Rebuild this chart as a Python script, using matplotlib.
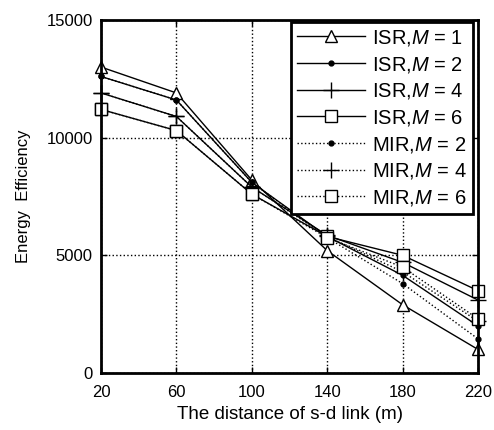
import matplotlib
matplotlib.use("Agg")
import matplotlib.pyplot as plt

plt.rcParams['font.family'] = ['Liberation Sans', 'DejaVu Sans']
plt.rcParams['mathtext.fontset'] = 'custom'
plt.rcParams['mathtext.it'] = 'Liberation Sans:italic'
plt.rcParams['mathtext.rm'] = 'Liberation Sans'

distance = [20, 60, 100, 140, 180, 220]
isr_m1 = [13000, 11900, 8200, 5200, 2900, 1000]
isr_m2 = [12600, 11600, 8100, 5800, 4150, 2000]
isr_m4 = [11900, 10900, 7900, 5850, 4700, 3100]
isr_m6 = [11200, 10300, 7600, 5800, 5000, 3500]
mir_m2 = [12600, 11600, 8100, 5750, 3800, 1450]
mir_m4 = [11900, 10900, 7900, 5800, 4300, 2200]
mir_m6 = [11200, 10300, 7600, 5750, 4500, 2300]

labels = ['ISR,$M$ = 1', 'ISR,$M$ = 2', 'ISR,$M$ = 4', 'ISR,$M$ = 6',
          'MIR,$M$ = 2', 'MIR,$M$ = 4', 'MIR,$M$ = 6']
xticks = [20, 60, 100, 140, 180, 220]
yticks = [0, 5000, 10000, 15000]

fig = plt.figure(figsize=(4.94, 4.30), dpi=100)
ax = fig.add_axes([0.2045, 0.1326, 0.7631, 0.8209])

series = [isr_m1, isr_m2, isr_m4, isr_m6, mir_m2, mir_m4, mir_m6]
styles = [('-', '^', 8.5), ('-', 'o', 3.5), ('-', '+', 11), ('-', 's', 8.5),
          (':', 'o', 3.5), (':', '+', 11), (':', 's', 8.5)]
for y, (ls, mk, ms), lab in zip(series, styles, labels):
    ax.plot(distance, y, linestyle=ls, marker=mk, markersize=ms, color='black',
            markerfacecolor='white' if mk in ('^', 's') else 'black',
            markeredgecolor='black', markeredgewidth=1.0, linewidth=1.0,
            label=lab, clip_on=False, zorder=3)

ax.set_xlim(20, 220)
ax.set_ylim(0, 15000)
ax.set_xticks(xticks)
ax.set_yticks(yticks)
ax.grid(True, color='black', linestyle=':', linewidth=1.0)
ax.tick_params(direction='in', top=True, right=True, labelsize=12, length=4, width=1)
ax.tick_params(axis='x', pad=9)
ax.tick_params(axis='y', pad=6)
for s in ax.spines.values():
    s.set_linewidth(2)
    s.set_zorder(4)
ax.set_xlabel('The distance of s-d link (m)', fontsize=13.5, labelpad=4)
ax.set_ylabel('Energy  Efficiency', fontsize=12, labelpad=11)

leg = ax.legend(loc='upper right', bbox_to_anchor=(473 / 494, 1 - 22 / 430),
                bbox_transform=fig.transFigure, borderaxespad=0,
                fontsize=14.5, frameon=True, fancybox=False,
                edgecolor='black', framealpha=1, handlelength=3.4,
                labelspacing=0.33, handletextpad=0.35, borderpad=0.3)
leg.get_frame().set_linewidth(2)
leg.set_zorder(5)

fig.savefig('out.png', dpi=100)
